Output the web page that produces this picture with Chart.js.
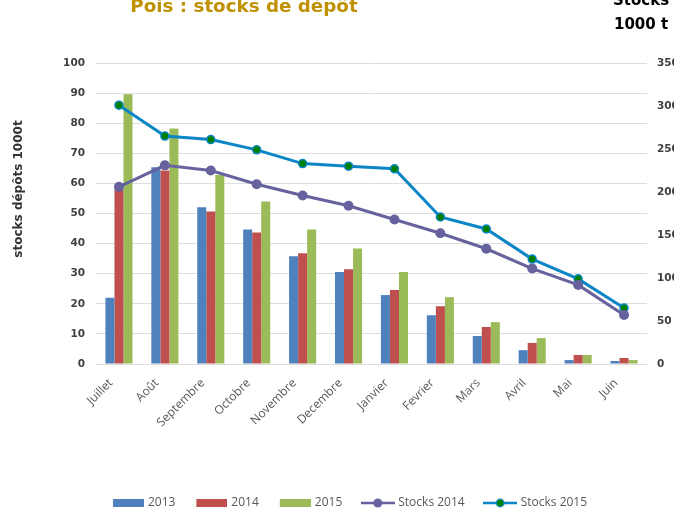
<!DOCTYPE html>
<html><head><meta charset="utf-8">
<script src="https://cdn.jsdelivr.net/npm/chart.js@4/dist/chart.umd.min.js"></script>
<style>
html,body{margin:0;padding:0;overflow:hidden;background:#fff;width:674px;height:510px}
#wrap{position:relative;width:700px;height:519px}
</style>
</head><body><div id="wrap"><canvas id="c" width="700" height="519"></canvas></div>
<script>
const categories = ['Juillet','Août','Septembre','Octobre','Novembre','Decembre','Janvier','Fevrier','Mars','Avril','Mai','Juin'];
const depot2013 = [22, 65.4, 52.1, 44.7, 35.8, 30.6, 22.9, 16.2, 9.3, 4.6, 1.3, 1.0];
const depot2014 = [58, 64.3, 50.7, 43.7, 36.8, 31.5, 24.6, 19.2, 12.3, 7.0, 3.0, 2.0];
const depot2015 = [89.6, 78.2, 62.8, 54.0, 44.7, 38.4, 30.6, 22.2, 13.9, 8.6, 3.0, 1.3];
const stocks2014 = [206, 231, 225, 209, 196, 184, 168, 152, 134, 111, 92, 57];
const stocks2015 = [301, 265, 261, 249, 233, 230, 227, 171, 157, 122, 99, 65];
const leftTicks = [0,10,20,30,40,50,60,70,80,90,100];
const rightTicks = [0,50,100,150,200,250,300,350];

const C_BLUE='#4F81BD', C_RED='#C0504D', C_GREEN='#9BBB59', C_S14='#66629E', C_S15='#0A86C6', C_MARK15='#008000';

function boxImg(color){
  const c=document.createElement('canvas'); c.width=33; c.height=10;
  const x=c.getContext('2d'); x.fillStyle=color; x.fillRect(2,1,31,8); return c;
}
function lineImg(color, mark, r){
  const c=document.createElement('canvas'); c.width=34; c.height=12;
  const x=c.getContext('2d'); x.strokeStyle=color; x.lineWidth=2.5;
  x.beginPath(); x.moveTo(0,6); x.lineTo(34,6); x.stroke();
  x.beginPath(); x.arc(17,6,r,0,Math.PI*2); x.fillStyle=mark; x.fill();
  if(mark!==color){x.lineWidth=1.2; x.strokeStyle=color; x.stroke();}
  return c;
}
const legendImgs=[boxImg(C_BLUE),boxImg(C_RED),boxImg(C_GREEN),lineImg(C_S14,C_S14,4.5),lineImg(C_S15,C_MARK15,3.8)];

const textPlugin={
  id:'texts',
  afterDraw(chart){
    const ctx=chart.ctx; ctx.save();
    ctx.fillStyle='#BF9000'; ctx.font='bold 18.3px "DejaVu Sans"'; ctx.textAlign='center'; ctx.textBaseline='alphabetic';
    ctx.fillText('Pois : stocks de dépôt',244,12);
    ctx.fillStyle='#000'; ctx.font='bold 15px "DejaVu Sans"'; ctx.textAlign='left';
    ctx.fillText('Stocks',613,5);
    ctx.fillText('1000 t',614,29);
    ctx.fillStyle='#333'; ctx.font='bold 12px "DejaVu Sans"'; ctx.textAlign='center';
    ctx.translate(22,189); ctx.rotate(-Math.PI/2); ctx.fillText('stocks dépôts 1000t',0,0);
    ctx.restore();
  }
};

new Chart(document.getElementById('c'),{
  data:{
    labels:categories,
    datasets:[
      {type:'bar',label:'2013',data:depot2013,backgroundColor:C_BLUE,yAxisID:'y',order:2,barPercentage:1,categoryPercentage:0.59},
      {type:'bar',label:'2014',data:depot2014,backgroundColor:C_RED,yAxisID:'y',order:2,barPercentage:1,categoryPercentage:0.59},
      {type:'bar',label:'2015',data:depot2015,backgroundColor:C_GREEN,yAxisID:'y',order:2,barPercentage:1,categoryPercentage:0.59},
      {type:'line',label:'Stocks 2014',data:stocks2014,borderColor:C_S14,backgroundColor:C_S14,borderWidth:3,pointRadius:5,pointBorderWidth:0,pointBackgroundColor:C_S14,yAxisID:'y1',order:0,tension:0},
      {type:'line',label:'Stocks 2015',data:stocks2015,borderColor:C_S15,backgroundColor:C_MARK15,borderWidth:3,pointRadius:4,pointBorderWidth:1.5,pointBorderColor:C_S15,pointBackgroundColor:C_MARK15,yAxisID:'y1',order:1,tension:0}
    ]
  },
  options:{
    responsive:false, animation:false, devicePixelRatio:1,
    layout:{padding:{top:63,left:0,right:0,bottom:0}},
    plugins:{
      title:{display:false}, tooltip:{enabled:false},
      legend:{position:'bottom',
        labels:{usePointStyle:true,pointStyleWidth:29,padding:21,color:'#595959',font:{family:'"Open Sans"',size:12},
          generateLabels(chart){
            return chart.data.datasets.map((d,i)=>({text:d.label,pointStyle:legendImgs[i],datasetIndex:i,hidden:false,lineWidth:0,fontColor:'#595959'}));
          }}
      }
    },
    scales:{
      x:{grid:{display:false},border:{display:false},
        ticks:{minRotation:45,maxRotation:45,autoSkip:false,color:'#595959',font:{family:'"Open Sans"',size:12},padding:4,labelOffset:-8},
        afterFit(s){s.height=112;}},
      y:{position:'left',min:0,max:100,border:{display:false},
        afterBuildTicks(s){s.ticks=leftTicks.map(v=>({value:v}));},
        grid:{color:'#DEDEDE',drawTicks:false,lineWidth:1},
        ticks:{padding:11,color:'#404040',font:{family:'"DejaVu Sans"',size:10.5,weight:'bold'}},
        afterFit(s){s.width=96;}},
      y1:{position:'right',min:0,max:350,border:{display:false},
        afterBuildTicks(s){s.ticks=rightTicks.map(v=>({value:v}));},
        grid:{display:false,drawTicks:false},
        ticks:{padding:10,color:'#404040',font:{family:'"DejaVu Sans"',size:10.5,weight:'bold'}},
        afterFit(s){s.width=53;}}
    }
  },
  plugins:[textPlugin]
});
</script>
</body></html>
